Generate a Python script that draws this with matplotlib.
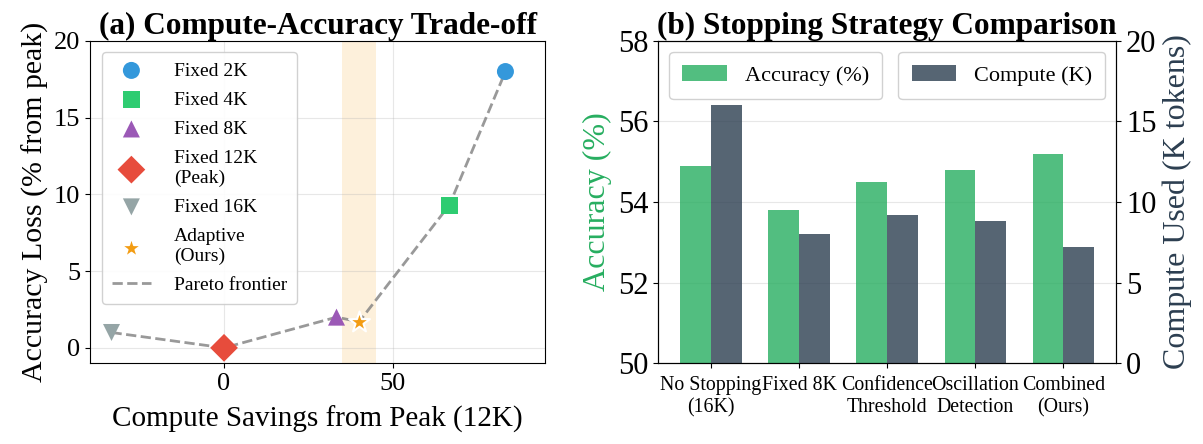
import numpy as np
import matplotlib
matplotlib.use("Agg")
import matplotlib.pyplot as plt

plt.rcParams['font.family'] = ['Liberation Serif', 'DejaVu Serif']
plt.rcParams['mathtext.fontset'] = 'stix'

# (a) compute savings vs accuracy loss
method_labels = ['Fixed 2K', 'Fixed 4K', 'Fixed 8K', 'Fixed 12K\n(Peak)', 'Fixed 16K', 'Adaptive\n(Ours)']
savings = [83.3, 66.7, 33.3, 0.0, -33.3, 40.0]
acc_loss = [18.0, 9.3, 2.0, 0.0, 1.0, 1.7]
markers = ['o', 's', '^', 'D', 'v', '*']
colors = ['#3498db', '#2ecc71', '#9b59b6', '#e74c3c', '#95a5a6', '#f39c12']
sizes = [150, 150, 150, 200, 150, 250]
adaptive_band = (35, 45)

# (b) stopping strategies
strategies = ['No Stopping\n(16K)', 'Fixed 8K', 'Confidence\nThreshold', 'Oscillation\nDetection', 'Combined\n(Ours)']
accuracy = [54.9, 53.8, 54.5, 54.8, 55.2]
compute_k = [16.0, 8.0, 9.2, 8.8, 7.2]

fig = plt.figure(figsize=(12.03, 4.44), dpi=100)
ax1 = fig.add_axes([0.075, 0.182, 0.378, 0.726])
ax2 = fig.add_axes([0.547, 0.182, 0.381, 0.726])

# ---- panel (a) ----
ax1.axvspan(*adaptive_band, color='#f39c12', alpha=0.15, lw=0, zorder=0)
order = np.argsort(savings)
ax1.plot(np.array(savings)[order], np.array(acc_loss)[order], '--', color='gray',
         lw=2, alpha=0.8, zorder=2, label='Pareto frontier')
handles = []
for lbl, x, y, m, c, s in zip(method_labels, savings, acc_loss, markers, colors, sizes):
    ec = 'white' if m == '*' else 'none'
    h = ax1.scatter(x, y, marker=m, s=s, color=c, edgecolors=ec, linewidths=1.5,
                    zorder=4, label=lbl)
    handles.append(h)
line_handle = ax1.get_lines()[0]
ax1.legend(handles + [line_handle], method_labels + ['Pareto frontier'],
           loc='upper left', fontsize=14, framealpha=0.9, edgecolor='#cccccc',
           borderpad=0.5, labelspacing=0.6, handletextpad=1.2, bbox_to_anchor=(0.005, 0.995))
ax1.set_xlim(-39.6, 95)
ax1.set_ylim(-1, 20)
ax1.set_xticks([0, 50])
ax1.set_yticks([0, 5, 10, 15, 20])
ax1.grid(True, alpha=0.3)
ax1.tick_params(labelsize=19)
ax1.set_xlabel('Compute Savings from Peak (12K)', fontsize=21, labelpad=8)
ax1.set_ylabel('Accuracy Loss (% from peak)', fontsize=21.5)
ax1.set_title('(a) Compute-Accuracy Trade-off', fontsize=22.5, fontweight='bold', pad=4)

# ---- panel (b) ----
x = np.arange(len(strategies))
w = 0.35
ax2.bar(x - w / 2, accuracy, w, color='#27ae60', alpha=0.8, label='Accuracy (%)', zorder=2)
ax2.set_ylim(50, 58)
ax2.set_yticks([50, 52, 54, 56, 58])
ax2.set_ylabel('Accuracy (%)', color='#27ae60', fontsize=23)
ax2.tick_params(axis='y', labelsize=22)
ax2.tick_params(axis='x', labelsize=14.3, pad=6)
ax2.set_xticks(x)
ax2.set_xticklabels(strategies, linespacing=1.2)
ax2.grid(True, axis='y', alpha=0.3)
ax2.set_xlim(-0.6, len(strategies) - 0.4)

ax2b = ax2.twinx()
ax2b.bar(x + w / 2, compute_k, w, color='#2c3e50', alpha=0.8, label='Compute (K)', zorder=2)
ax2b.set_ylim(0, 20)
ax2b.set_yticks([0, 5, 10, 15, 20])
ax2b.set_ylabel('Compute Used (K tokens)', color='#2c3e50', fontsize=23)
ax2b.tick_params(axis='y', labelsize=22)

ax2.legend(loc='upper left', fontsize=16, framealpha=0.9, edgecolor='#cccccc', borderpad=0.6)
ax2b.legend(loc='upper right', fontsize=16, framealpha=0.9, edgecolor='#cccccc', borderpad=0.6)
ax2.set_title('(b) Stopping Strategy Comparison', fontsize=22.5, fontweight='bold', pad=4)

fig.savefig('out.png', dpi=100)
